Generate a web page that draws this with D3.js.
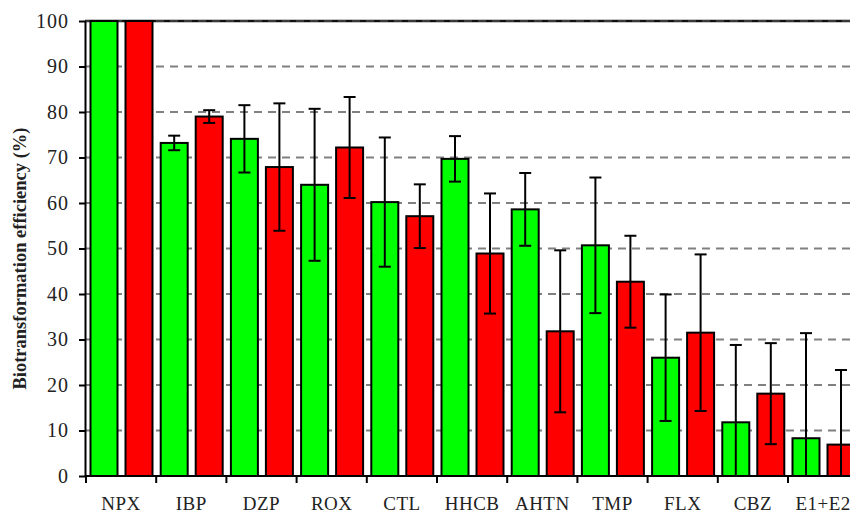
<!DOCTYPE html>
<html>
<head>
<meta charset="utf-8">
<script src="https://cdn.jsdelivr.net/npm/d3@7"></script>
<style>
  html, body { margin: 0; padding: 0; background: #fff; }
  svg { display: block; }
  text { font-family: "Liberation Serif", "Times New Roman", serif; fill: #222; }
</style>
</head>
<body>
<svg id="chart" width="850" height="513"></svg>
<script>
// Compounds on the x axis
const categories = ["NPX", "IBP", "DZP", "ROX", "CTL", "HHCB", "AHTN", "TMP", "FLX", "CBZ", "E1+E2"];

// Biotransformation efficiency (%) and standard deviations, first series (green)
const greenValues = [100, 73.2, 74.1, 64.0, 60.2, 69.7, 58.6, 50.7, 26.0, 11.8, 8.3];
const greenErrors = [0, 1.6, 7.4, 16.7, 14.2, 5.0, 8.0, 14.9, 13.9, 17.0, 23.1];

// Second series (red)
const redValues = [100, 79.0, 67.9, 72.2, 57.1, 48.9, 31.8, 42.7, 31.5, 18.1, 6.9];
const redErrors = [0, 1.4, 14.0, 11.1, 7.0, 13.2, 17.8, 10.1, 17.2, 11.1, 16.4];

const yTicks = [0, 10, 20, 30, 40, 50, 60, 70, 80, 90, 100];
const seriesKeys = ["green", "red"];
const seriesColors = { green: "#00ff00", red: "#ff0000" };

const rows = categories.map((c, i) => ({
  category: c,
  bars: [
    { key: "green", value: greenValues[i], err: greenErrors[i] },
    { key: "red", value: redValues[i], err: redErrors[i] }
  ]
}));

const svg = d3.select("#chart");
const plotLeft = 85, plotTop = 21, plotBottom = 476, step = 70.2;
const plotRight = plotLeft + 1 + categories.length * step;

const x = d3.scaleBand().domain(categories).range([plotLeft + 1, plotRight]).padding(0);
const xInner = d3.scaleBand().domain(seriesKeys).range([4.5, 66.5]).paddingInner(8 / 35);
const y = d3.scaleLinear().domain([0, 100]).range([plotBottom, plotTop]);

svg.append("defs").append("clipPath").attr("id", "plotClip")
  .append("rect").attr("x", plotLeft).attr("y", plotTop - 2)
  .attr("width", 850).attr("height", plotBottom - plotTop + 2);

// Gridlines (dashed), 10..90
svg.append("g")
  .selectAll("line")
  .data(yTicks.filter(t => t > 0 && t < 100))
  .join("line")
  .attr("x1", plotLeft + 1).attr("x2", 850)
  .attr("y1", d => y(d)).attr("y2", d => y(d))
  .attr("stroke", "#808080").attr("stroke-width", 2)
  .attr("stroke-dasharray", "8,6");

// Top border at 100
svg.append("line")
  .attr("x1", plotLeft).attr("x2", 850)
  .attr("y1", y(100)).attr("y2", y(100))
  .attr("stroke", "#111").attr("stroke-width", 2.5);
svg.append("line")
  .attr("x1", plotLeft + 1).attr("x2", 850)
  .attr("y1", y(100)).attr("y2", y(100))
  .attr("stroke", "#777").attr("stroke-width", 0.8)
  .attr("stroke-dasharray", "8,6");

// Bars
const plot = svg.append("g").attr("clip-path", "url(#plotClip)");
const groups = plot.selectAll("g.cat")
  .data(rows)
  .join("g")
  .attr("class", "cat")
  .attr("transform", d => `translate(${x(d.category)},0)`);

groups.selectAll("rect")
  .data(d => d.bars)
  .join("rect")
  .attr("x", d => xInner(d.key))
  .attr("width", xInner.bandwidth())
  .attr("y", d => y(d.value))
  .attr("height", d => y(0) - y(d.value))
  .attr("fill", d => seriesColors[d.key])
  .attr("stroke", "#000")
  .attr("stroke-width", 2);

// Error bars
const capHalf = 6;
const cx = d => xInner(d.key) + xInner.bandwidth() / 2;
const eb = groups.selectAll("g.err")
  .data(d => d.bars.filter(b => b.err > 0))
  .join("g")
  .attr("class", "err")
  .attr("stroke", "#000")
  .attr("stroke-width", 2);
eb.append("line")
  .attr("x1", cx).attr("x2", cx)
  .attr("y1", d => y(d.value + d.err))
  .attr("y2", d => y(d.value - d.err));
eb.append("line")
  .attr("x1", d => cx(d) - capHalf).attr("x2", d => cx(d) + capHalf)
  .attr("y1", d => y(d.value + d.err)).attr("y2", d => y(d.value + d.err));
eb.append("line")
  .attr("x1", d => cx(d) - capHalf).attr("x2", d => cx(d) + capHalf)
  .attr("y1", d => y(d.value - d.err)).attr("y2", d => y(d.value - d.err));

// Y axis
const yAxis = svg.append("g")
  .attr("transform", `translate(${plotLeft},0)`)
  .call(d3.axisLeft(y).tickValues(yTicks).tickSize(6).tickPadding(10).tickSizeOuter(0));
yAxis.select(".domain").attr("stroke", "#000").attr("stroke-width", 2);
yAxis.selectAll(".tick line").attr("stroke", "#000").attr("stroke-width", 2);
yAxis.selectAll(".tick text")
  .attr("font-size", 20)
  .attr("letter-spacing", "1px")
  .attr("fill", "#222")
  .style("font-family", "'Liberation Serif', serif");

// X axis: ticks at category boundaries, labels centred in each band
const xAxisG = svg.append("g").attr("transform", `translate(0,${plotBottom})`);
xAxisG.append("line")
  .attr("x1", plotLeft).attr("x2", 850)
  .attr("y1", 0).attr("y2", 0)
  .attr("stroke", "#000").attr("stroke-width", 2);
xAxisG.selectAll("line.tick")
  .data(categories)
  .join("line")
  .attr("class", "tick")
  .attr("x1", d => x(d)).attr("x2", d => x(d))
  .attr("y1", 0).attr("y2", 7)
  .attr("stroke", "#000").attr("stroke-width", 2);
xAxisG.selectAll("text")
  .data(categories)
  .join("text")
  .attr("x", d => x(d) + x.bandwidth() / 2)
  .attr("y", 34)
  .attr("text-anchor", "middle")
  .attr("font-size", 19)
  .attr("letter-spacing", "0.5px")
  .text(d => d);

// Y axis title
svg.append("text")
  .attr("transform", `translate(26,${(plotTop + plotBottom) / 2 + 10}) rotate(-90)`)
  .attr("text-anchor", "middle")
  .attr("font-size", 18.5)
  .attr("font-weight", "bold")
  .attr("fill", "#000")
  .text("Biotransformation efficiency (%)");
</script>
</body>
</html>
